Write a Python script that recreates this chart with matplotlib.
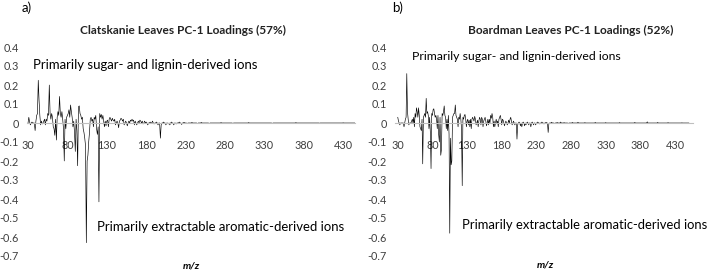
import numpy as np
import matplotlib.pyplot as plt

plt.rcParams['font.family'] = ['Lato', 'DejaVu Sans']

W, H = 709, 271

# Clatskanie leaves, PC-1 loadings (m/z : loading), unlisted m/z read as ~0
clat_mz = [30, 31, 32, 33, 35, 39, 40, 41, 42, 43, 44, 45, 46, 47, 48, 50, 51, 52, 53, 54,
           55, 56, 57, 58, 59, 60, 61, 62, 63, 64, 65, 66, 67, 68, 69, 70, 71, 72, 73, 74,
           75, 76, 77, 78, 79, 80, 81, 82, 83, 84, 85, 86, 87, 88, 89, 90, 91, 92, 93, 94,
           95, 96, 97, 98, 99, 100, 101, 102, 103, 104, 105, 106, 107, 108, 109, 110, 111, 112, 113, 114,
           115, 116, 117, 118, 119, 120, 121, 122, 123, 124, 125, 126, 127, 128, 129, 130, 131, 132, 133, 134,
           135, 136, 137, 138, 139, 140, 141, 143, 145, 146, 147, 148, 149, 150, 151, 152, 154, 156, 158, 160,
           161, 162, 163, 164, 165, 166, 168, 170, 172, 173, 175, 176, 178, 180, 182, 185, 188, 190, 193, 195,
           198, 199, 202, 205, 208, 210, 212, 215, 218, 222, 225, 228, 232, 238, 245, 250, 260, 275, 290, 310,
           340, 370, 400, 430]
clat_val = [0.0, 0.03, 0.005, -0.01, 0.005, -0.04, 0.01, 0.04, 0.05, 0.225, 0.12, 0.04, -0.01, 0.01, -0.005, 0.01, 0.02, -0.01, 0.02, 0.01,
            0.05, 0.04, 0.2, 0.05, 0.02, 0.05, 0.03, -0.02, -0.03, -0.065, 0.02, -0.09, 0.03, 0.06, 0.04, 0.14, 0.05, 0.03, 0.06, 0.02,
            -0.03, -0.2, 0.02, -0.03, 0.03, 0.04, 0.05, 0.07, 0.03, 0.095, 0.06, 0.03, -0.02, 0.01, -0.05, -0.15, 0.02, -0.04, -0.225, 0.085,
            0.09, 0.05, 0.04, 0.02, 0.03, -0.03, -0.05, -0.08, -0.12, -0.63, -0.2, -0.17, -0.1, -0.05, 0.02, 0.03, 0.01, 0.02, -0.02, 0.03,
            0.02, 0.04, -0.03, -0.06, -0.02, -0.415, 0.05, 0.03, 0.045, 0.02, 0.04, 0.01, -0.02, 0.01, -0.015, 0.01, 0.015, -0.02, 0.02, 0.03,
            0.02, 0.01, 0.025, 0.015, 0.01, 0.02, -0.01, 0.01, -0.025, 0.01, 0.015, 0.025, 0.02, 0.01, 0.02, -0.01, 0.01, -0.015, 0.01, 0.015,
            0.01, 0.02, 0.01, 0.015, -0.01, 0.01, -0.01, 0.01, 0.015, 0.01, 0.01, -0.005, 0.01, 0.005, -0.01, 0.005, 0.01, -0.005, 0.005, -0.01,
            -0.08, -0.01, 0.005, -0.01, -0.005, -0.01, 0.005, -0.01, -0.005, 0.005, -0.008, 0.004, -0.004, 0.003, -0.004, 0.003, -0.003, 0.002, -0.002, 0.002,
            -0.002, 0.002, -0.001, 0.001]

# Boardman leaves, PC-1 loadings
board_mz = [30, 31, 33, 39, 41, 42, 43, 44, 45, 46, 50, 51, 53, 54, 55, 56, 57, 58, 59, 60,
            61, 62, 63, 64, 65, 66, 67, 68, 69, 70, 71, 72, 73, 74, 75, 76, 77, 78, 79, 80,
            81, 82, 83, 84, 85, 86, 87, 88, 89, 90, 91, 92, 93, 94, 95, 96, 97, 98, 99, 100,
            101, 102, 103, 104, 105, 106, 107, 108, 109, 110, 111, 112, 113, 114, 115, 116, 117, 118, 119, 120,
            121, 122, 123, 124, 125, 126, 127, 128, 129, 130, 131, 132, 133, 134, 135, 136, 137, 138, 139, 140,
            141, 142, 143, 145, 146, 147, 148, 149, 150, 151, 152, 153, 154, 155, 156, 157, 158, 160, 161, 162,
            164, 165, 166, 167, 168, 169, 170, 172, 174, 175, 176, 177, 178, 179, 180, 181, 182, 184, 186, 188,
            190, 192, 193, 194, 195, 197, 199, 202, 203, 205, 207, 209, 211, 213, 215, 217, 219, 222, 224, 226,
            229, 232, 235, 238, 241, 244, 247, 248, 252, 256, 260, 265, 270, 276, 282, 290, 300, 315, 330, 350,
            372, 390, 405, 420, 440]
board_val = [0.03, 0.01, -0.01, -0.02, 0.02, 0.03, 0.26, 0.06, 0.02, -0.01, 0.01, 0.02, 0.03, -0.02, 0.05, 0.03, 0.08, 0.06, 0.03, 0.08,
             0.04, -0.02, -0.03, -0.04, 0.02, -0.215, 0.03, 0.04, 0.05, 0.03, 0.13, 0.05, 0.06, 0.04, -0.03, 0.03, -0.05, -0.24, 0.05, 0.04,
             0.07, 0.075, 0.05, 0.03, 0.04, 0.02, -0.03, 0.04, -0.06, -0.1, 0.03, -0.17, -0.14, 0.05, 0.04, 0.06, 0.09, 0.04, 0.03, -0.03,
             0.02, -0.04, 0.04, -0.06, -0.58, -0.08, -0.22, -0.2, 0.03, 0.04, 0.05, 0.05, 0.095, 0.04, 0.03, 0.02, -0.02, 0.03, 0.02, 0.05,
             0.02, -0.03, -0.33, 0.03, 0.02, 0.04, 0.045, 0.02, -0.02, 0.01, 0.02, -0.01, 0.015, -0.02, 0.02, -0.03, 0.02, 0.03, 0.02, 0.01,
             0.035, 0.02, -0.01, 0.015, -0.02, 0.01, 0.03, 0.02, -0.01, 0.03, 0.02, -0.02, 0.01, 0.02, 0.03, 0.01, -0.015, 0.02, -0.01, 0.02,
             0.04, 0.025, 0.05, 0.03, -0.02, 0.01, -0.02, 0.02, 0.01, -0.02, 0.02, 0.03, 0.04, 0.02, -0.01, 0.02, 0.015, -0.015, 0.01, -0.01,
             0.015, 0.02, 0.03, 0.01, -0.01, 0.01, -0.01, -0.085, -0.01, 0.005, -0.015, -0.02, 0.005, -0.015, -0.01, 0.005, -0.01, -0.02, 0.005, -0.01,
             -0.01, 0.005, -0.005, 0.005, -0.005, 0.004, -0.05, -0.004, 0.004, -0.003, 0.003, 0.005, 0.002, -0.003, 0.003, 0.004, 0.002, 0.003, 0.002, 0.002,
             0.003, 0.006, 0.003, 0.002, 0.001]

x_ticks = [30, 80, 130, 180, 230, 280, 330, 380, 430]
y_ticks = [0.4, 0.3, 0.2, 0.1, 0, -0.1, -0.2, -0.3, -0.4, -0.5, -0.6, -0.7]


def spectrum(mz, val, last):
    full_mz = np.arange(30, last + 1)
    full_val = np.zeros(len(full_mz))
    full_val[np.array(mz) - 30] = val
    return full_mz, full_val


def fx(px):
    return px / W


def fy(py):
    return 1 - py / H


fig = plt.figure(figsize=(W / 100, H / 100), dpi=100)
renderer = fig.canvas.get_renderer()


def fit_text(x, y, s, width, **kw):
    # scale font so the string spans about `width` pixels, like the reference
    t = fig.text(fx(x), fy(y), s, va='center', fontsize=10, **kw)
    w = t.get_window_extent(renderer).width
    t.set_fontsize(10 * width / w)
    return t


panels = [
    # (data, axes left/right px, xlim, title, title x)
    ((clat_mz, clat_val), 27, 355, (28.7, 445), 'Clatskanie Leaves PC-1 Loadings (57%)', 183),
    ((board_mz, board_val), 395, 693, (26.0, 456), 'Boardman Leaves PC-1 Loadings (52%)', 571),
]

for (mz, val), l, r, xl, title, tx in panels:
    ax = fig.add_axes([fx(l), fy(256), (r - l) / W, (256 - 47) / H])
    xs, ys = spectrum(mz, val, 450)
    ax.plot(xs, ys, color='#000000', lw=0.45)
    ax.set_xlim(*xl)
    ax.set_ylim(-0.7, 0.4)
    ax.set_xticks(x_ticks)
    ax.set_yticks(y_ticks)
    ax.set_yticklabels(['%g' % v for v in y_ticks])
    for s in ['top', 'right', 'left']:
        ax.spines[s].set_visible(False)
    ax.spines['bottom'].set_position(('data', 0))
    ax.spines['bottom'].set_color('#bfbfbf')
    ax.spines['bottom'].set_linewidth(0.8)
    ax.tick_params(axis='both', length=0, labelsize=7.8, colors='#404040')
    ax.tick_params(axis='x', pad=12)
    ax.tick_params(axis='y', pad=6)
    ax.patch.set_alpha(0)
    fit_text(tx, 30, title, 207, ha='center', fontweight='bold', color='#222222')

fig.text(fx(22), fy(8), 'a)', ha='left', va='center', fontsize=9.5)
fig.text(fx(392), fy(8), 'b)', ha='left', va='center', fontsize=9.5)

fit_text(33, 65, 'Primarily sugar- and lignin-derived ions', 224, ha='left')
fit_text(97, 227, 'Primarily extractable aromatic-derived ions', 247, ha='left')
fit_text(412, 57, 'Primarily sugar- and lignin-derived ions', 210, ha='left')
fit_text(462, 225, 'Primarily extractable aromatic-derived ions', 246, ha='left')

fig.text(fx(191), fy(266), 'm/z', ha='center', va='center', fontsize=7.5,
         fontweight='bold', style='italic')
fig.text(fx(545), fy(265), 'm/z', ha='center', va='center', fontsize=7.5,
         fontweight='bold', style='italic')

fig.savefig('out.png', dpi=100)
